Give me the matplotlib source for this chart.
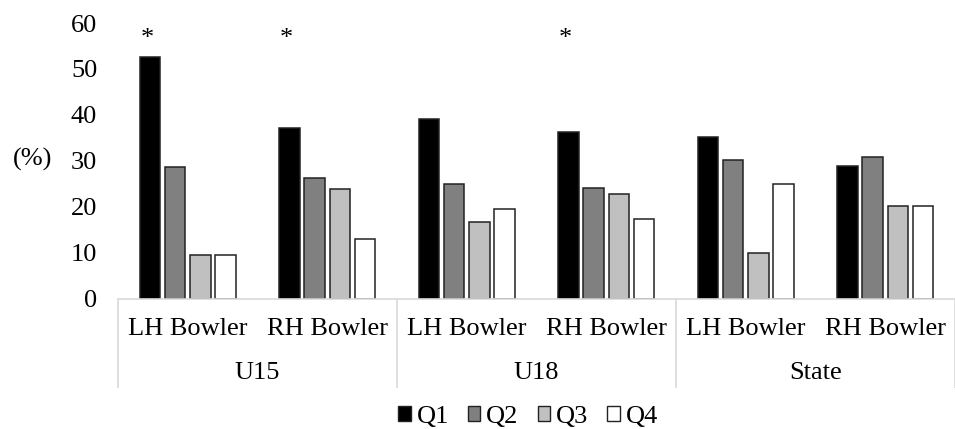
import matplotlib
matplotlib.use("Agg")
import matplotlib.pyplot as plt
import matplotlib.transforms as mtransforms
from matplotlib.patches import Patch
import numpy as np

plt.rcParams['font.family'] = ['Liberation Serif', 'DejaVu Serif']

# data
groups = ["U15", "U18", "State"]
bowlers = ["LH Bowler", "RH Bowler"]
quarters = ["Q1", "Q2", "Q3", "Q4"]
q1 = [52.7, 37.2, 39.0, 36.2, 35.2, 28.9]
q2 = [28.7, 26.3, 25.0, 24.0, 30.2, 30.8]
q3 = [9.5, 23.8, 16.7, 22.7, 10.0, 20.2]
q4 = [9.5, 13.0, 19.5, 17.3, 25.0, 20.2]
significant = [True, True, False, True, False, False]  # asterisk over Q1

colors = ["#000000", "#808080", "#c0c0c0", "#ffffff"]
series = [q1, q2, q3, q4]
fs = 19

fig = plt.figure(figsize=(9.55, 4.29), dpi=100)
ax = fig.add_axes([118/955, 1 - 298.5/429, (955 - 118)/955, 275.5/429])

x = np.arange(len(q1))
step, width = 0.181, 0.146
for k, vals in enumerate(series):
    ax.bar(x + (k - 1.5)*step, vals, width, color=colors[k],
           edgecolor="#222222", linewidth=1.1, label=quarters[k], zorder=2)

# asterisks
for i, s in enumerate(significant):
    if s:
        ax.text(x[i] - 1.5*step - 0.02, 56.6, "*", ha="center", va="center",
                fontsize=fs)

ax.set_ylim(0, 60)
ax.set_xlim(-0.5, -0.5 + (955 - 118)/141.5)
ax.set_yticks(np.arange(0, 61, 10))
ax.tick_params(axis="y", length=0, pad=15, labelsize=fs)
ax.set_ylabel("(%)", rotation=0, fontsize=fs, va="center", ha="center")
ax.yaxis.set_label_coords(-0.102, 0.503)

for side in ["left", "right", "top"]:
    ax.spines[side].set_visible(False)
ax.spines["bottom"].set_color("#d9d9d9")
ax.spines["bottom"].set_linewidth(1.2)

# lower level labels on minor ticks, separators as long major ticks
ax.set_xticks(x, minor=True)
ax.set_xticklabels(bowlers*len(groups), minor=True)
ax.tick_params(axis="x", which="minor", length=0, pad=14, labelsize=fs)
ax.set_xticks(np.arange(-0.5, len(q1), 2))
ax.set_xticklabels([])
ax.tick_params(axis="x", which="major", length=64, width=1.2,
               color="#d9d9d9")

trans = mtransforms.blended_transform_factory(ax.transData, ax.transAxes)
for g, name in enumerate(groups):
    ax.text(2*g + 0.5, -0.272, name, transform=trans, ha="center",
            va="center", fontsize=fs)

handles = [Patch(facecolor=c, edgecolor="#222222", linewidth=1.0)
           for c in colors]
fig.legend(handles, quarters, loc="center", bbox_to_anchor=(528/955, 1 - 417/429),
           ncol=4, frameon=False, fontsize=fs, handlelength=0.48,
           handleheight=0.48, handletextpad=0.22, columnspacing=0.72,
           borderpad=0.0)

fig.savefig("out.png", dpi=100)
